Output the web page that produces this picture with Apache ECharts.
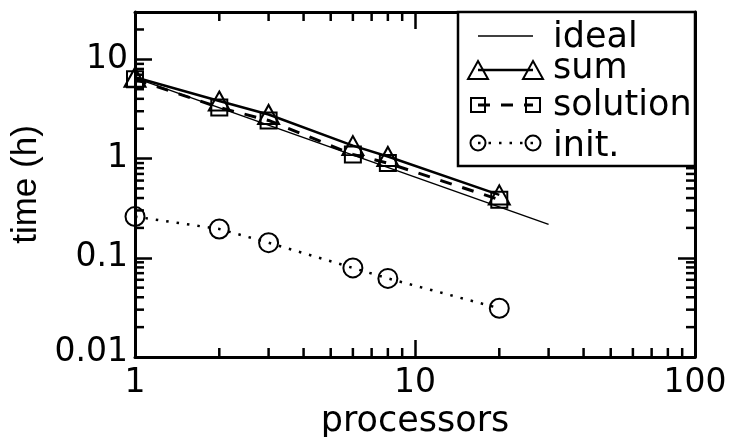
<!DOCTYPE html>
<html><head><meta charset="utf-8">
<script src="https://cdn.jsdelivr.net/npm/echarts@6/dist/echarts.min.js"></script>
<style>html,body{margin:0;padding:0;background:#fff}#c{width:731px;height:437px;background:#fff}</style>
</head><body><div id="c"></div>
<script>
// ---- data ----
const processors = [1, 2, 3, 6, 8, 20];
const sumTime = [6.6, 3.8, 2.78, 1.35, 1.05, 0.43];
const solutionTime = [6.3, 3.27, 2.42, 1.1, 0.9, 0.385];
const initTime = [0.26, 0.195, 0.142, 0.079, 0.062, 0.031];
const idealProcessors = [1, 30];
const idealTime = [6.5, 0.217];
const xTickLabels = ['1', '10', '100'];
const yTickLabels = ['0.01', '0.1', '1', '10'];
const xMinorTicks = [2, 3, 4, 5, 6, 7, 8, 9, 20, 30, 40, 50, 60, 70, 80, 90];
const yMinorTicks = [0.02, 0.03, 0.04, 0.05, 0.06, 0.07, 0.08, 0.09,
                     0.2, 0.3, 0.4, 0.5, 0.6, 0.7, 0.8, 0.9,
                     2, 3, 4, 5, 6, 7, 8, 9, 20];
const legendNames = ['ideal', 'sum', 'solution', 'init.'];

(function () {
const FONT = '"DejaVu Sans", sans-serif';
const isDecade = v => Math.abs(Math.log10(v) - Math.round(Math.log10(v))) < 1e-6;
const fmt = v => String(Number(v.toPrecision(6)));
const MINOR = 9;

const pairs = (xs, ys) => xs.map((x, i) => [x, ys[i]]);
const chart = echarts.init(document.getElementById('c'), null, {renderer: 'canvas'});

const axisLine = () => ({show: true, onZero: false, lineStyle: {color: '#000', width: 3}});
const majorTick = () => ({show: true, inside: true, length: 17, lineStyle: {color: '#000', width: 2.5}});
const tickLine = (x1, y1, x2, y2) => ({type: 'line', shape: {x1: x1, y1: y1, x2: x2, y2: y2},
  style: {stroke: '#000', lineWidth: 2.5}});

const option = {
  animation: false,
  grid: {left: 135, top: 12, right: 36, bottom: 80, containLabel: false, outerBoundsMode: 'none'},
  xAxis: [{
    type: 'log', logBase: 10, min: 1, max: 100, position: 'bottom',
    axisLine: axisLine(), axisTick: majorTick(), splitLine: {show: false}, minorTick: {show: false},
    axisLabel: {
      color: '#000', fontSize: 33, fontFamily: FONT, margin: 10,
      formatter: v => (isDecade(v) && xTickLabels.includes(fmt(v))) ? fmt(v) : ''
    },
    name: 'processors', nameLocation: 'middle', nameGap: 41,
    nameTextStyle: {color: '#000', fontSize: 35, fontFamily: FONT}
  }, {
    type: 'log', logBase: 10, min: 1, max: 100, position: 'top',
    axisLine: axisLine(), axisTick: majorTick(), axisLabel: {show: false}, splitLine: {show: false}
  }],
  yAxis: [{
    type: 'log', logBase: 10, min: 0.01, max: 30, position: 'left',
    axisLine: axisLine(), axisTick: majorTick(), splitLine: {show: false}, minorTick: {show: false},
    axisLabel: {
      color: '#000', fontSize: 33, fontFamily: FONT, margin: 7,
      formatter: v => {
        if (!isDecade(v)) return '';
        const s = fmt(v);
        if (!yTickLabels.includes(s)) return '';
        return s === yTickLabels[0] ? '{low|' + s + '}' : s;
      },
      rich: {low: {color: '#000', fontSize: 33, fontFamily: FONT, padding: [0, 0, 10, 0]}}
    },
    name: 'time (h)', nameLocation: 'middle', nameRotate: 90, nameGap: 81,
    nameTextStyle: {color: '#000', fontSize: 35, fontFamily: '"Liberation Sans", Arial, sans-serif'}
  }, {
    type: 'log', logBase: 10, min: 0.01, max: 30, position: 'right',
    axisLine: axisLine(), axisTick: majorTick(), axisLabel: {show: false}, splitLine: {show: false}
  }],
  series: [
    {
      name: 'ideal', type: 'line', data: pairs(idealProcessors, idealTime),
      symbol: 'none', clip: false, z: 3,
      lineStyle: {color: '#000', width: 1.5}
    },
    {
      name: 'solution', type: 'line', data: pairs(processors, solutionTime),
      symbol: 'rect', symbolSize: 16, clip: false, z: 4,
      lineStyle: {color: '#000', width: 3, type: [12, 11]},
      itemStyle: {color: 'rgba(0,0,0,0)', borderColor: '#000', borderWidth: 2}
    },
    {
      name: 'sum', type: 'line', data: pairs(processors, sumTime),
      symbol: 'triangle', symbolSize: [21, 19], clip: false, z: 5,
      lineStyle: {color: '#000', width: 2.5},
      itemStyle: {color: 'rgba(0,0,0,0)', borderColor: '#000', borderWidth: 2}
    },
    {
      name: 'init.', type: 'line', data: pairs(processors, initTime),
      symbol: 'circle', symbolSize: 19, clip: false, z: 4,
      lineStyle: {color: '#000', width: 2.5, type: [2.5, 8], cap: 'butt'},
      itemStyle: {color: 'rgba(0,0,0,0)', borderColor: '#000', borderWidth: 2}
    },
    {
      name: 'x minor ticks', type: 'custom', silent: true, clip: false, z: 6,
      data: xMinorTicks.map(v => [v, 1]),
      renderItem: (params, api) => {
        const cs = params.coordSys;
        const x = api.coord([api.value(0), 1])[0];
        const yb = cs.y + cs.height, yt = cs.y;
        return {type: 'group', children: [
          tickLine(x, yb, x, yb - MINOR), tickLine(x, yt, x, yt + MINOR)]};
      }
    },
    {
      name: 'y minor ticks', type: 'custom', silent: true, clip: false, z: 6,
      data: yMinorTicks.map(v => [1, v]),
      renderItem: (params, api) => {
        const cs = params.coordSys;
        const y = api.coord([1, api.value(1)])[1];
        const xl = cs.x, xr = cs.x + cs.width;
        return {type: 'group', children: [
          tickLine(xl, y, xl + MINOR, y), tickLine(xr, y, xr - MINOR, y)]};
      }
    }
  ]
};
chart.setOption(option);

// ---- legend box (xmgrace style: symbol - line - symbol) ----
const els = [];
const pxRight = Number(chart.convertToPixel({xAxisIndex: 0}, 100));
const pxTop = Number(chart.convertToPixel({yAxisIndex: 0}, 30));
const LX = 458, LY = pxTop, LW = pxRight - 458, LH = 154;
els.push({type: 'rect', z: 110, shape: {x: LX, y: LY, width: LW, height: LH},
  style: {fill: '#fff', stroke: '#000', lineWidth: 2.5}});
const rowsY = [36, 70, 105, 143];
const textY = [38, 69, 106, 147];
const s1 = 478, s2 = 533, textX = 553;
els.push({type: 'line', z: 111, shape: {x1: s1, y1: rowsY[0], x2: s2, y2: rowsY[0]}, style: {stroke: '#000', lineWidth: 1.5}});
els.push({type: 'line', z: 111, shape: {x1: s1, y1: rowsY[1], x2: s2, y2: rowsY[1]}, style: {stroke: '#000', lineWidth: 2.5}});
[s1, s2].forEach(cx => els.push({type: 'polygon', z: 112,
  shape: {points: [[cx, rowsY[1] - 9], [cx + 10, rowsY[1] + 9], [cx - 10, rowsY[1] + 9]]},
  style: {fill: 'none', stroke: '#000', lineWidth: 2}}));
els.push({type: 'line', z: 111, shape: {x1: s1, y1: rowsY[2], x2: s2, y2: rowsY[2]},
  style: {stroke: '#000', lineWidth: 3, lineDash: [12, 11]}});
[s1, s2].forEach(cx => els.push({type: 'rect', z: 112,
  shape: {x: cx - 7, y: rowsY[2] - 7, width: 14, height: 14},
  style: {fill: 'none', stroke: '#000', lineWidth: 2}}));
els.push({type: 'line', z: 111, shape: {x1: s1, y1: rowsY[3], x2: s2, y2: rowsY[3]},
  style: {stroke: '#000', lineWidth: 2.5, lineDash: [2.5, 8]}});
[s1, s2].forEach(cx => els.push({type: 'circle', z: 112,
  shape: {cx: cx, cy: rowsY[3], r: 7.5},
  style: {fill: 'none', stroke: '#000', lineWidth: 2}}));
legendNames.forEach((n, i) => els.push({type: 'text', z: 113,
  style: {text: n, x: textX, y: textY[i], fill: '#000', fontSize: 35, fontFamily: FONT,
    align: 'left', verticalAlign: 'middle'}}));

chart.setOption({graphic: {elements: els}});
})();
</script>
</body></html>
